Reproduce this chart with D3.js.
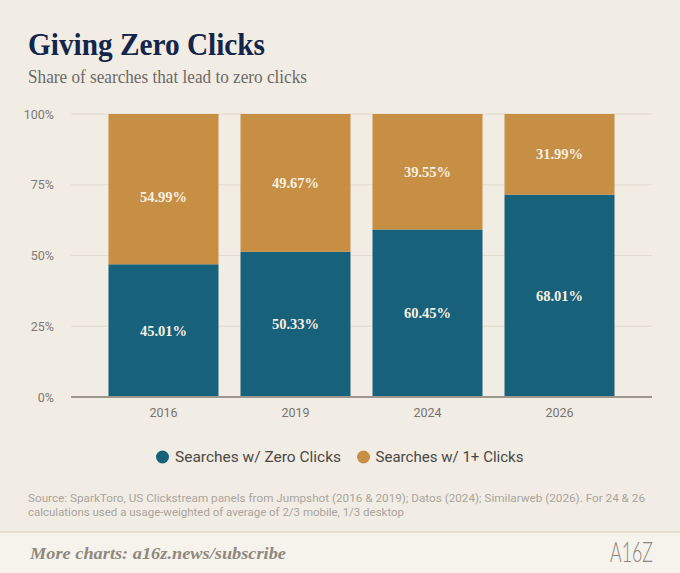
<!DOCTYPE html>
<html>
<head>
<meta charset="utf-8">
<script src="https://cdn.jsdelivr.net/npm/d3@7"></script>
<style>
  html, body { margin: 0; padding: 0; background: #f1ece4; }
  svg { display: block; }
</style>
</head>
<body>
<svg id="chart" width="680" height="573"></svg>
<script>
// ---- data ----
const years = ["2016", "2019", "2024", "2026"];
// bar heights as drawn in the reference (share of searches with zero clicks, %)
const zeroShare = [46.9, 51.3, 59.2, 71.5];
// labels printed on the bars
const zeroLabels = ["45.01%", "50.33%", "60.45%", "68.01%"];
const clickLabels = ["54.99%", "49.67%", "39.55%", "31.99%"];
const seriesNames = ["Searches w/ Zero Clicks", "Searches w/ 1+ Clicks"];
const yTicks = [0, 25, 50, 75, 100];

const colors = { zero: "#17617b", click: "#c68f43" };

const svg = d3.select("#chart");
const W = 680, H = 573;

svg.append("rect").attr("width", W).attr("height", H).attr("fill", "#f1ece4");

// footer band
svg.append("rect").attr("x", 0).attr("y", 532).attr("width", W).attr("height", H - 532).attr("fill", "#f6f3ec");
svg.append("line").attr("x1", 0).attr("x2", W).attr("y1", 532).attr("y2", 532)
  .attr("stroke", "#e0d9cb").attr("stroke-width", 1.5);

// title & subtitle
svg.append("text").attr("x", 28).attr("y", 55)
  .attr("font-family", "'Liberation Serif', 'DejaVu Serif', serif")
  .attr("font-weight", "bold").attr("font-size", 32)
  .attr("textLength", 237).attr("lengthAdjust", "spacingAndGlyphs")
  .attr("fill", "#13254a").text("Giving Zero Clicks");
svg.append("text").attr("x", 28).attr("y", 83)
  .attr("font-family", "'Liberation Serif', 'DejaVu Serif', serif")
  .attr("font-size", 18)
  .attr("textLength", 279).attr("lengthAdjust", "spacingAndGlyphs")
  .attr("fill", "#6c6a66").text("Share of searches that lead to zero clicks");

// scales
const x = d3.scaleBand().domain(years).range([71, 652]).paddingInner(0.1667).paddingOuter(0.284);
const y = d3.scaleLinear().domain([0, 100]).range([397, 114]);

// grid
svg.append("g").selectAll("line").data(yTicks.filter(d => d > 0)).join("line")
  .attr("x1", 71).attr("x2", 652)
  .attr("y1", d => y(d)).attr("y2", d => y(d))
  .attr("stroke", "#e2dbcd").attr("stroke-width", 1);

// y axis labels
const yAxis = d3.axisLeft(y).tickValues(yTicks).tickFormat(d => d + "%").tickSize(0).tickPadding(0);
const gy = svg.append("g").attr("transform", "translate(54,0)").call(yAxis);
gy.select(".domain").remove();
gy.selectAll("text").attr("font-family", "Roboto, 'Liberation Sans', sans-serif")
  .attr("font-size", 12.5).attr("fill", "#7d7a75");

// bars
const rows = years.map((yr, i) => ({ year: yr, zero: zeroShare[i], click: 100 - zeroShare[i], i }));
const stack = d3.stack().keys(["zero", "click"])(rows);

const gBars = svg.append("g");
stack.forEach(layer => {
  gBars.selectAll(null).data(layer).join("rect")
    .attr("x", d => x(d.data.year))
    .attr("width", x.bandwidth())
    .attr("y", d => y(d[1]))
    .attr("height", d => y(d[0]) - y(d[1]))
    .attr("fill", colors[layer.key]);
});

// bar labels
stack.forEach(layer => {
  const labels = layer.key === "zero" ? zeroLabels : clickLabels;
  gBars.selectAll(null).data(layer).join("text")
    .attr("x", d => x(d.data.year) + x.bandwidth() / 2)
    .attr("y", d => (y(d[0]) + y(d[1])) / 2 + (layer.key === "click" && d.data.i === 0 ? 8 : 0))
    .attr("dy", "0.35em")
    .attr("text-anchor", "middle")
    .attr("font-family", "'Liberation Serif', 'DejaVu Serif', serif")
    .attr("font-weight", "bold").attr("font-size", 14.5)
    .attr("fill", "#f6efe3")
    .text(d => labels[d.data.i]);
});

// baseline
svg.append("line").attr("x1", 71).attr("x2", 652).attr("y1", y(0)).attr("y2", y(0))
  .attr("stroke", "#9d978c").attr("stroke-width", 2);

// x axis labels
const xAxis = d3.axisBottom(x).tickSize(0).tickPadding(0);
const gx = svg.append("g").attr("transform", "translate(0,413)").call(xAxis);
gx.select(".domain").remove();
gx.selectAll("text").attr("dy", "0.35em").attr("font-family", "Roboto, 'Liberation Sans', sans-serif")
  .attr("font-size", 12.5).attr("fill", "#77746f");

// legend
const legend = [
  { name: seriesNames[0], color: colors.zero, cx: 162.5, tx: 175, tw: 166 },
  { name: seriesNames[1], color: colors.click, cx: 363.5, tx: 375.5, tw: 148 }
];
const gl = svg.append("g");
gl.selectAll("circle").data(legend).join("circle")
  .attr("cx", d => d.cx).attr("cy", 457).attr("r", 6.5).attr("fill", d => d.color);
gl.selectAll("text").data(legend).join("text")
  .attr("x", d => d.tx).attr("y", 457).attr("dy", "0.35em")
  .attr("font-family", "Roboto, 'Liberation Sans', sans-serif")
  .attr("font-size", 15).attr("fill", "#4a4845")
  .attr("textLength", d => d.tw).attr("lengthAdjust", "spacingAndGlyphs")
  .text(d => d.name);

// source
const sourceLines = [
  { t: "Source: SparkToro, US Clickstream panels from Jumpshot (2016 & 2019); Datos (2024); Similarweb (2026). For 24 & 26", w: 617, y: 498 },
  { t: "calculations used a usage-weighted of average of 2/3 mobile, 1/3 desktop", w: 376, y: 512 }
];
svg.append("g").selectAll("text").data(sourceLines).join("text")
  .attr("x", 28).attr("y", d => d.y).attr("dy", "0.35em")
  .attr("font-family", "Roboto, 'Liberation Sans', sans-serif")
  .attr("font-size", 11.5).attr("fill", "#aaa59c")
  .attr("textLength", d => d.w).attr("lengthAdjust", "spacingAndGlyphs")
  .text(d => d.t);

// footer
svg.append("text").attr("x", 30).attr("y", 559)
  .attr("font-family", "'Liberation Serif', 'DejaVu Serif', serif")
  .attr("font-style", "italic").attr("font-weight", "bold").attr("font-size", 16)
  .attr("textLength", 256).attr("lengthAdjust", "spacingAndGlyphs")
  .attr("fill", "#8e887d").text("More charts: a16z.news/subscribe");
svg.append("text").attr("x", 610).attr("y", 562)
  .attr("font-family", "Lato, 'Open Sans', sans-serif")
  .attr("font-weight", 300).attr("font-size", 27)
  .attr("textLength", 43).attr("lengthAdjust", "spacingAndGlyphs")
  .attr("fill", "#8a857c").text("A16Z");
</script>
</body>
</html>
